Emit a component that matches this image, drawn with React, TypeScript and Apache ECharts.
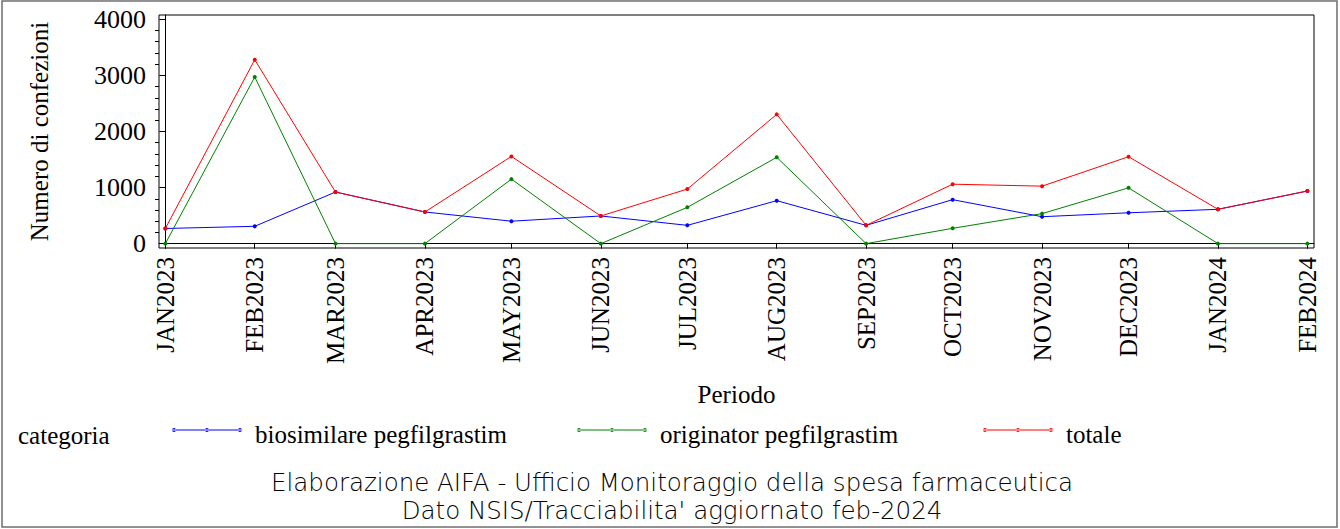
import React, { useEffect, useRef } from "react";
import * as echarts from "echarts";

const periodLabels = [
  "JAN2023", "FEB2023", "MAR2023", "APR2023", "MAY2023", "JUN2023", "JUL2023",
  "AUG2023", "SEP2023", "OCT2023", "NOV2023", "DEC2023", "JAN2024", "FEB2024",
];
const periodDates = [
  "2023-01-01", "2023-02-01", "2023-03-01", "2023-04-01", "2023-05-01", "2023-06-01", "2023-07-01",
  "2023-08-01", "2023-09-01", "2023-10-01", "2023-11-01", "2023-12-01", "2024-01-01", "2024-02-01",
];
const biosimilare = [270, 309, 920, 564, 400, 493, 326, 766, 326, 784, 480, 550, 612, 938];
const originator = [0, 2971, 0, 0, 1150, 0, 647, 1539, 0, 273, 535, 995, 0, 0];
const totale = [270, 3280, 920, 564, 1555, 493, 973, 2305, 326, 1060, 1025, 1550, 612, 938];
const yMajorTicks = [0, 1000, 2000, 3000, 4000];
const yMinorTicks = [200, 400, 600, 800, 1200, 1400, 1600, 1800, 2200, 2400, 2600, 2800, 3200, 3400, 3600, 3800];

const seriesNames = ["biosimilare pegfilgrastim", "originator pegfilgrastim", "totale"];
const seriesColors = ["#0000ff", "#008000", "#ff0000"];
const legendLefts = [172, 577, 983];

const DAY = 86400000;
const t0 = Date.parse(periodDates[0]);
const dayOffsets = periodDates.map((d) => (Date.parse(d) - t0) / DAY);

const serif = "'Liberation Serif', 'Times New Roman', serif";
const footerFont = "200 24.5px 'DejaVu Sans', sans-serif";
const legendIcon =
  "path://M0,1.5H70V2.5H0Z M0,2a2,2 0 1,0 4,0a2,2 0 1,0 -4,0Z M33,2a2,2 0 1,0 4,0a2,2 0 1,0 -4,0Z M66,2a2,2 0 1,0 4,0a2,2 0 1,0 -4,0Z M0,13h0.01v0.01h-0.01Z";

export default function App() {
  const ref = useRef<HTMLDivElement>(null);
  useEffect(() => {
    if (!ref.current) return;
    const chart = echarts.init(ref.current, undefined, { renderer: "svg" });
    const data = [biosimilare, originator, totale];
    const lastDay = dayOffsets[dayOffsets.length - 1];
    chart.setOption({
      animation: false,
      backgroundColor: "#ffffff",
      grid: {
        left: 159,
        top: 15,
        width: 1155,
        height: 233,
        show: true,
        borderColor: "#000",
        borderWidth: 1,
        backgroundColor: "transparent",
      },
      xAxis: {
        type: "value",
        min: -2.2,
        max: lastDay + 2.3,
        name: "Periodo",
        nameLocation: "middle",
        nameGap: 134,
        nameTextStyle: { fontFamily: serif, fontSize: 25, color: "#000" },
        axisLine: { show: true, lineStyle: { color: "#000", width: 1 } },
        axisTick: { show: true, length: 5, customValues: dayOffsets, lineStyle: { color: "#000" } },
        axisLabel: {
          customValues: dayOffsets,
          rotate: 90,
          margin: 9,
          fontFamily: serif,
          fontSize: 25,
          color: "#000",
          formatter: (v: number) => {
            let best = 0;
            dayOffsets.forEach((d, i) => {
              if (Math.abs(d - v) < Math.abs(dayOffsets[best] - v)) best = i;
            });
            return periodLabels[best];
          },
        },
        splitLine: { show: false },
      },
      yAxis: [
        {
          type: "value",
          min: -78,
          max: 4077,
          name: "Numero di confezioni",
          nameLocation: "middle",
          nameGap: 107,
          nameTextStyle: { fontFamily: serif, fontSize: 25, color: "#000" },
          axisLine: { show: true, lineStyle: { color: "#000", width: 1 } },
          axisTick: { show: true, length: 6, customValues: yMajorTicks, lineStyle: { color: "#000" } },
          axisLabel: {
            customValues: yMajorTicks,
            margin: 13,
            fontFamily: serif,
            fontSize: 26,
            color: "#000",
            formatter: (v: number) => String(Math.round(v)),
          },
          splitLine: { show: false },
        },
        {
          type: "value",
          position: "left",
          min: -78,
          max: 4077,
          axisLine: { show: false },
          axisTick: { show: true, length: 4, customValues: yMinorTicks, lineStyle: { color: "#000" } },
          axisLabel: { show: false },
          splitLine: { show: false },
        },
      ],
      legend: seriesNames.map((name, i) => ({
        left: legendLefts[i],
        top: 422,
        padding: 0,
        icon: legendIcon,
        itemWidth: 70,
        itemHeight: 13,
        data: [name],
        textStyle: {
          fontFamily: serif,
          fontSize: 25,
          color: "#000",
          padding: [0, 0, 0, 8],
        },
      })),
      graphic: [
        {
          type: "rect",
          shape: { x: 2, y: 1, width: 1335, height: 526 },
          style: { fill: "none", stroke: "#6e6e6e", lineWidth: 1.5 },
          silent: true,
        },
        {
          type: "text",
          x: 18,
          y: 435,
          style: { text: "categoria", font: `25px ${serif}`, fill: "#000", verticalAlign: "middle" },
        },
        {
          type: "text",
          x: 672,
          y: 482,
          style: {
            text: "Elaborazione AIFA - Ufficio Monitoraggio della spesa farmaceutica",
            font: footerFont,
            fill: "#000",
            align: "center",
            verticalAlign: "middle",
          },
        },
        {
          type: "text",
          x: 672,
          y: 510,
          style: {
            text: "Dato NSIS/Tracciabilita' aggiornato feb-2024",
            font: footerFont,
            fill: "#000",
            align: "center",
            verticalAlign: "middle",
          },
        },
      ],
      series: seriesNames.map((name, si) => ({
        name,
        type: "line",
        yAxisIndex: 0,
        data: dayOffsets.map((d, i) => [d, data[si][i]]),
        symbol: "circle",
        symbolSize: 4,
        color: seriesColors[si],
        itemStyle: { color: seriesColors[si] },
        lineStyle: { color: seriesColors[si], width: 1 },
        z: 2 + si,
      })),
    });
    return () => chart.dispose();
  }, []);
  return (
    <div
      ref={ref}
      style={{ position: "fixed", left: 0, top: 0, width: 1340, height: 529, background: "#fff" }}
    />
  );
}
